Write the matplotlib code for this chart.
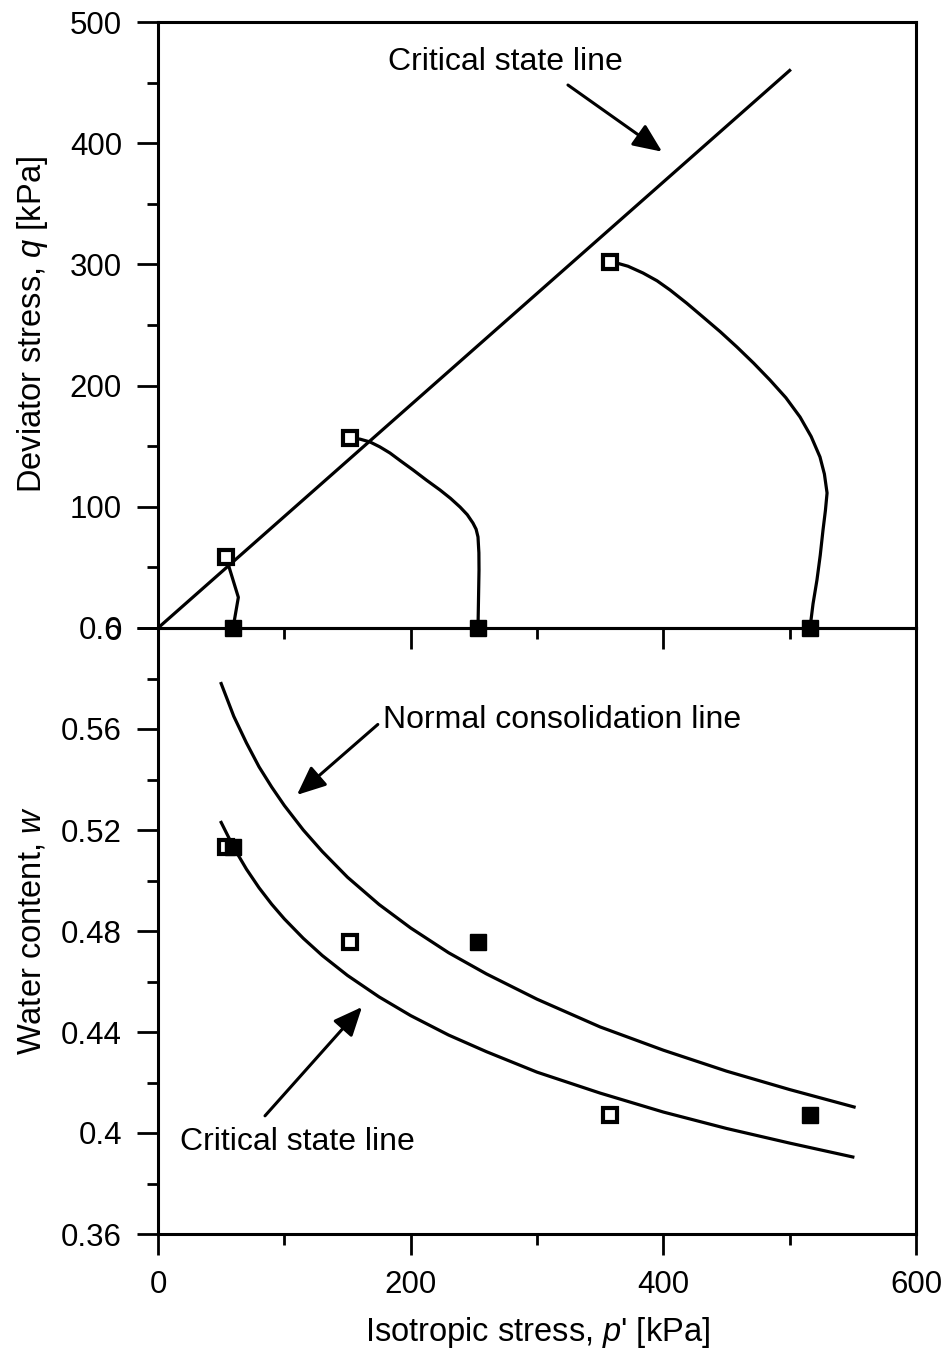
import numpy as np
import matplotlib
matplotlib.use('Agg')
import matplotlib.pyplot as plt
from matplotlib.ticker import MultipleLocator, FuncFormatter

plt.rcParams['font.family'] = ['Liberation Sans', 'DejaVu Sans']
plt.rcParams['mathtext.fontset'] = 'custom'
plt.rcParams['mathtext.rm'] = 'Liberation Sans'
plt.rcParams['mathtext.it'] = 'Liberation Sans:italic'

# ---- top panel: q - p' ----
csl_p = [0, 500]
csl_q = [0, 460]

path1_p = [59.4, 63.6, 53.8]
path1_q = [0, 25.3, 58.6]

path2_p = [253.3, 254.1, 254.0, 253.3, 251.8, 249.3, 244.8, 239.1, 231.5, 223.2, 212.5, 201.9,
           192.5, 183.6, 175.5, 167.8, 160.0, 152.0]
path2_q = [0, 47.9, 62.0, 75.1, 81.5, 86.6, 93.5, 99.8, 107.0, 113.9, 122.0, 130.4,
           137.5, 144.4, 149.5, 153.5, 155.8, 156.8]

path3_p = [516.1, 518.5, 521.6, 524.2, 526.4, 528.3, 529.6, 527.5, 524.0, 517.0, 508.2, 497.0,
           484.4, 471.5, 458.3, 445.0, 431.4, 418.5, 405.3, 395.0, 383.9, 372.0, 360.2, 357.8]
path3_q = [0, 20.0, 39.6, 60.0, 80.9, 97.0, 111.4, 127.0, 141.1, 158.0, 174.1, 190.0,
           204.6, 218.5, 231.8, 244.5, 256.6, 268.0, 278.9, 286.5, 292.9, 298.5, 302.0, 302.0]

start_p = [59.4, 253.3, 516.1]     # filled squares
start_q = [0, 0, 0]
fail_p = [53.8, 152.0, 357.8]      # open squares
fail_q = [58.6, 156.8, 302.0]

# ---- bottom panel: w - p' ----
ncl_p = [50, 60, 70, 80, 90, 100, 115, 130, 150, 175, 200, 230, 260, 300, 350, 400, 450, 500, 551]
ncl_w = [0.578, 0.565, 0.5545, 0.5450, 0.5370, 0.5297, 0.5200, 0.5115, 0.5013, 0.4905, 0.4812,
         0.4714, 0.4630, 0.4530, 0.4420, 0.4328, 0.4245, 0.4172, 0.4103]

cslw_p = [50, 60, 70, 80, 90, 100, 115, 130, 150, 175, 200, 230, 260, 300, 350, 400, 450, 500, 550]
cslw_w = [0.5230, 0.5130, 0.5045, 0.4971, 0.4906, 0.4848, 0.4771, 0.4703, 0.4624, 0.4539, 0.4465,
          0.4388, 0.4322, 0.4241, 0.4158, 0.4083, 0.4018, 0.3960, 0.3905]

start_w = [0.5133, 0.4757, 0.4071]
fail_w = [0.5133, 0.4757, 0.4071]

fs_tick = 22.5
fs_lab = 23.5
fs_note = 23
lw = 2.3
arrow = dict(arrowstyle='-|>,head_length=0.55,head_width=0.24', color='k', lw=2.2,
             mutation_scale=32, shrinkA=0, shrinkB=0)

fig = plt.figure(figsize=(9.46, 13.52), dpi=100)
ax1 = fig.add_axes([158/946, 1-628/1352, 758/946, 606/1352])
ax2 = fig.add_axes([158/946, 1-1234/1352, 758/946, 606/1352])
ax1.set_zorder(3)
ax1.patch.set_visible(False)

for ax in (ax1, ax2):
    for s in ax.spines.values():
        s.set_linewidth(2.2)
    ax.tick_params(which='major', direction='out', length=15, width=2, labelsize=fs_tick, pad=11)
    ax.tick_params(which='minor', direction='out', length=8, width=2)
    ax.set_xlim(0, 600)
    ax.xaxis.set_major_locator(MultipleLocator(200))
    ax.xaxis.set_minor_locator(MultipleLocator(100))

# top
ax1.plot(csl_p, csl_q, 'k-', lw=lw)
ax1.plot(path1_p, path1_q, 'k-', lw=lw)
ax1.plot(path2_p, path2_q, 'k-', lw=lw)
ax1.plot(path3_p, path3_q, 'k-', lw=lw)
ax1.plot(fail_p, fail_q, 's', ms=9.5, mfc='white', mec='k', mew=3, clip_on=False, zorder=5)
ax1.plot(start_p, start_q, 's', ms=12, mfc='k', mec='k', clip_on=False, zorder=5)
ax1.set_ylim(0, 500)
ax1.yaxis.set_major_locator(MultipleLocator(100))
ax1.yaxis.set_minor_locator(MultipleLocator(50))
ax1.tick_params(axis='x', labelbottom=False)
ax1.set_ylabel("Deviator stress, $q$ [kPa]", fontsize=fs_lab)
ax1.yaxis.set_label_coords(-0.142, 0.5)
ax1.text(274.7, 467, "Critical state line", fontsize=fs_note, ha='center', va='center')
ax1.annotate("", xy=(399, 393), xytext=(324.5, 448), arrowprops=arrow)

# bottom
ax2.plot(ncl_p, ncl_w, 'k-', lw=lw)
ax2.plot(cslw_p, cslw_w, 'k-', lw=lw)
ax2.plot(fail_p, fail_w, 's', ms=9.5, mfc='white', mec='k', mew=3, zorder=4)
ax2.plot(start_p, start_w, 's', ms=12, mfc='k', mec='k', zorder=5)
ax2.set_ylim(0.36, 0.60)
ax2.yaxis.set_major_locator(MultipleLocator(0.04))
ax2.yaxis.set_minor_locator(MultipleLocator(0.02))
ax2.yaxis.set_major_formatter(FuncFormatter(lambda v, pos: '%g' % round(v, 2)))
ax2.set_ylabel("Water content, $w$", fontsize=fs_lab)
ax2.yaxis.set_label_coords(-0.146, 0.5)
ax2.set_xlabel("Isotropic stress, $p$' [kPa]", fontsize=fs_lab)
ax2.xaxis.set_label_coords(0.5, -0.133)

ax2.text(178, 0.5636, "Normal consolidation line", fontsize=fs_note, ha='left', va='center')
ax2.annotate("", xy=(110, 0.5339), xytext=(174, 0.5618), arrowprops=arrow)
ax2.text(17.4, 0.3965, "Critical state line", fontsize=fs_note, ha='left', va='center')
ax2.annotate("", xy=(161.5, 0.4499), xytext=(84.7, 0.4068), arrowprops=arrow)

fig.savefig('out.png', dpi=100)
